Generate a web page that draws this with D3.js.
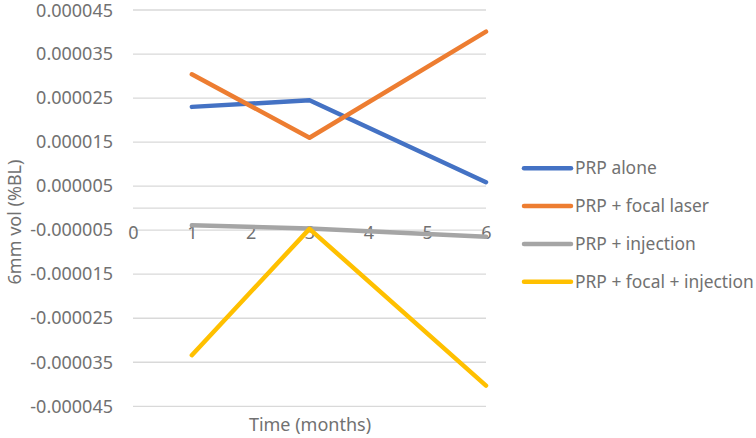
<!DOCTYPE html>
<html>
<head>
<meta charset="utf-8">
<script src="https://cdn.jsdelivr.net/npm/d3@7"></script>
<style>
  body { margin: 0; background: #fff; }
  svg { display: block; font-family: "Noto Sans", "Open Sans", sans-serif; }
</style>
</head>
<body>
<svg id="chart" width="756" height="438"></svg>
<script>
// data
var months = [1, 3, 6];
var seriesNames = ['PRP alone', 'PRP + focal laser', 'PRP + injection', 'PRP + focal + injection'];
var prpAlone = [0.0000230, 0.0000245, 0.0000059];
var prpFocal = [0.0000304, 0.0000160, 0.0000401];
var prpInjection = [-0.0000039, -0.0000046, -0.0000065];
var prpFocalInjection = [-0.0000334, -0.0000047, -0.0000403];
var colors = ['#4472C4', '#ED7D31', '#A5A5A5', '#FFC000'];
var xTicks = [0, 1, 2, 3, 4, 5, 6];
var yTicks = [0.000045, 0.000035, 0.000025, 0.000015, 0.000005, -0.000005, -0.000015, -0.000025, -0.000035, -0.000045];

var seriesValues = [prpAlone, prpFocal, prpInjection, prpFocalInjection];
var series = seriesNames.map(function(n, i) {
	return {
		name: n,
		color: colors[i],
		points: months.map(function(m, j) { return { x: m, y: seriesValues[i][j] }; })
	};
});

var textColor = '#717171';
var gridColor = '#d9d9d9';

var svg = d3.select('#chart');

var x = d3.scaleLinear().domain([0, 6]).range([133, 486]);
var y = d3.scaleLinear().domain([-0.000045, 0.000045]).range([406.3, 10]);

// gridlines
svg.append('g')
	.attr('class', 'grid')
	.selectAll('line')
	.data(yTicks)
	.enter().append('line')
	.attr('x1', x(0))
	.attr('x2', x(6))
	.attr('y1', function(d) { return y(d); })
	.attr('y2', function(d) { return y(d); })
	.attr('stroke', gridColor)
	.attr('stroke-width', 1.3);

// horizontal axis line at zero
svg.append('line')
	.attr('x1', x(0))
	.attr('x2', x(6))
	.attr('y1', y(0))
	.attr('y2', y(0))
	.attr('stroke', gridColor)
	.attr('stroke-width', 1.3);

// y axis labels
var yAxis = svg.append('g')
	.attr('transform', 'translate(' + (x(0) - 4) + ',0)')
	.call(d3.axisLeft(y).tickValues(yTicks).tickSize(0).tickPadding(16)
		.tickFormat(function(d) { return d.toFixed(6); }));
yAxis.select('.domain').remove();
yAxis.selectAll('text')
	.attr('fill', textColor)
	.style('font-size', '18px')
	.style('font-family', '"Noto Sans", "Open Sans", sans-serif');
yAxis.selectAll('.tick text').filter(function(d) { return d === yTicks[0]; })
	.attr('dy', '0.38em');

// x axis labels (sit below the zero line, as in the reference)
var xAxis = svg.append('g')
	.attr('transform', 'translate(0,' + (y(0) + 18) + ')')
	.call(d3.axisBottom(x).tickValues(xTicks).tickSize(0).tickPadding(0)
		.tickFormat(d3.format('d')));
xAxis.select('.domain').remove();
xAxis.selectAll('text')
	.attr('fill', textColor)
	.style('font-size', '18px')
	.style('font-family', '"Noto Sans", "Open Sans", sans-serif');

// lines
var line = d3.line()
	.x(function(d) { return x(d.x); })
	.y(function(d) { return y(d.y); });

svg.append('g')
	.selectAll('path')
	.data(series)
	.enter().append('path')
	.attr('d', function(d) { return line(d.points); })
	.attr('fill', 'none')
	.attr('stroke', function(d) { return d.color; })
	.attr('stroke-width', 4.5)
	.attr('stroke-linecap', 'round')
	.attr('stroke-linejoin', 'round');

// axis titles
svg.append('text')
	.attr('transform', 'translate(21,222) rotate(-90)')
	.attr('text-anchor', 'middle')
	.attr('fill', textColor)
	.style('font-size', '18px')
	.text('6mm vol (%BL)');

svg.append('text')
	.attr('x', 310)
	.attr('y', 431)
	.attr('text-anchor', 'middle')
	.attr('fill', textColor)
	.style('font-size', '18px')
	.text('Time (months)');

// legend
var legend = svg.append('g')
	.selectAll('g')
	.data(series)
	.enter().append('g')
	.attr('transform', function(d, i) { return 'translate(524,' + (168.3 + i * 37.8) + ')'; });

legend.append('line')
	.attr('x1', 0)
	.attr('x2', 47)
	.attr('stroke', function(d) { return d.color; })
	.attr('stroke-width', 4.5)
	.attr('stroke-linecap', 'round');

legend.append('text')
	.attr('x', 51)
	.attr('dy', '0.35em')
	.attr('fill', textColor)
	.style('font-size', '17.4px')
	.text(function(d) { return d.name; });
</script>
</body>
</html>
